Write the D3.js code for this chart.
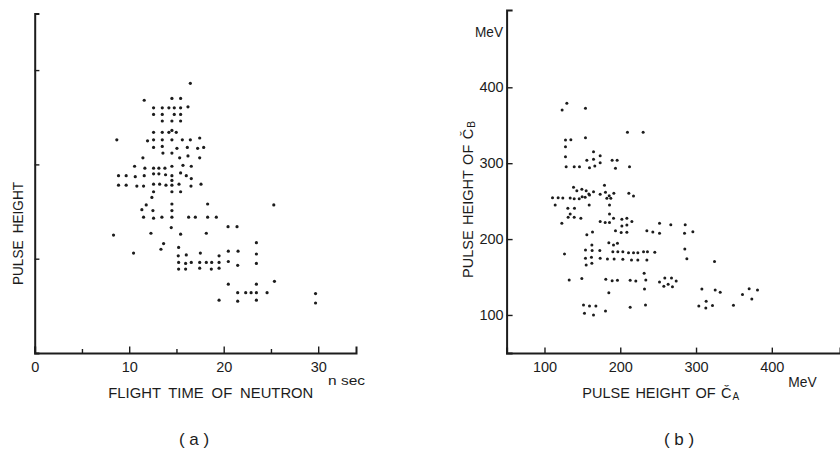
<!DOCTYPE html>
<html><head><meta charset="utf-8">
<script src="https://cdn.jsdelivr.net/npm/d3@7"></script>
<style>
body{margin:0;background:#fff}
text{font-family:"Liberation Sans",Arial,sans-serif;fill:#1c1c1c}
</style>
</head><body>
<svg id="c" width="840" height="449"></svg>
<script>
// Panel (a): flight time of neutron (ns) vs pulse height (arbitrary units, tick spacing = 1)
const flightTimeNs = [
 16.47,11.59,14.52,15.44,12.58,13.50,14.20,14.77,15.44,16.22,
 12.58,13.50,14.77,15.44,13.50,14.52,15.44,14.52,12.58,13.50,
 14.20,14.98,8.69,11.94,12.58,13.50,14.52,15.62,16.47,17.46,
 12.58,13.50,15.05,16.15,17.24,17.88,13.57,14.52,11.45,15.34,
 16.22,17.46,10.57,11.66,12.58,13.14,13.78,14.52,15.69,16.57,
 8.87,9.68,10.64,11.59,12.58,13.14,13.85,14.52,15.44,16.04,
 14.52,16.57,8.87,9.68,10.81,11.52,12.58,13.22,13.89,14.52,
 15.27,16.54,17.60,12.58,14.52,15.44,12.40,11.80,11.34,14.52,
 18.30,25.30,12.51,14.52,11.52,12.58,13.46,14.52,16.29,17.00,
 18.30,19.22,14.45,20.46,21.41,8.34,12.30,15.44,18.16,13.64,
 13.36,23.46,10.46,15.23,15.19,16.04,17.53,20.49,21.52,23.46,
 19.51,15.23,15.97,16.57,17.46,18.16,18.73,19.51,20.49,21.48,
 23.46,15.23,15.97,17.46,18.69,19.51,20.49,25.37,23.46,21.48,
 22.33,22.90,23.46,24.59,29.72,19.51,21.48,23.46,29.72
];
const pulseHeightA = [
 2.86,2.68,2.70,2.70,2.60,2.60,2.60,2.60,2.60,2.61,
 2.53,2.53,2.53,2.53,2.46,2.46,2.46,2.36,2.34,2.34,
 2.34,2.34,2.26,2.25,2.26,2.26,2.26,2.26,2.26,2.28,
 2.18,2.19,2.17,2.18,2.17,2.18,2.12,2.12,2.07,2.07,
 2.09,2.07,1.98,1.96,1.96,1.96,1.96,1.98,1.99,1.98,
 1.88,1.88,1.87,1.88,1.90,1.90,1.89,1.88,1.91,1.88,
 1.83,1.85,1.78,1.78,1.77,1.77,1.79,1.79,1.78,1.78,
 1.79,1.77,1.79,1.71,1.71,1.71,1.65,1.57,1.52,1.58,
 1.58,1.57,1.51,1.51,1.44,1.43,1.44,1.44,1.44,1.44,
 1.44,1.44,1.33,1.34,1.34,1.25,1.27,1.26,1.27,1.16,
 1.10,1.17,1.06,1.12,1.03,1.04,1.06,1.08,1.08,1.05,
 1.03,0.96,0.95,0.96,0.96,0.96,0.96,0.96,0.97,0.93,
 0.95,0.89,0.89,0.90,0.89,0.90,0.73,0.76,0.73,0.64,
 0.64,0.64,0.64,0.64,0.63,0.56,0.55,0.56,0.53
];
const flightTicks = [0,5,10,15,20,25,30];
const flightLabels = [0,10,20,30];
const pulseTicksA = [1,2,3];

// Panel (b): pulse height of C_A vs C_B (MeV)
const pulseCA = [
 129.5,123.3,154.1,209.5,230.2,127.7,134.8,154.1,127.7,127.7,
 164.7,173.5,155.9,164.7,173.5,189.3,195.9,128.6,139.2,146.2,
 159.4,166.4,193.7,212.2,138.3,142.7,149.3,155.0,158.5,164.7,
 179.2,173.5,180.5,185.4,191.5,182.3,187.5,211.3,217.5,110.6,
 118.0,124.2,133.9,139.2,145.8,149.7,153.7,159.4,114.1,159.0,
 185.8,122.9,130.8,139.6,133.9,131.2,139.2,148.0,185.8,191.1,
 173.5,180.1,185.8,202.1,208.7,215.3,202.1,208.7,193.7,201.2,
 208.7,155.9,163.4,235.1,243.0,251.8,266.7,285.7,251.8,284.8,
 295.8,184.9,191.1,196.3,162.5,154.1,162.9,173.0,190.2,196.8,
 203.4,210.9,217.5,223.2,230.7,235.9,126.4,154.1,162.0,173.5,
 183.1,191.9,203.4,214.8,223.2,235.1,155.0,162.5,231.5,132.6,
 149.3,180.9,189.3,196.3,213.1,220.5,233.7,184.9,232.0,151.5,
 159.4,167.8,152.8,164.7,180.5,213.1,233.3,251.8,258.8,267.6,
 273.8,257.5,263.2,268.9,245.6,285.2,287.9,324.4,307.7,325.3,
 331.9,313.4,303.7,312.9,321.7,349.4,361.3,370.1,381.1,373.6
];
const pulseCB = [
 378.9,370.1,372.3,340.7,340.7,330.6,331.0,333.6,321.8,308.6,
 315.2,309.9,303.8,305.1,300.7,303.8,303.8,295.4,295.4,295.4,
 294.1,296.3,293.2,295.4,268.2,263.8,265.6,263.8,259.4,262.5,
 270.8,259.0,261.6,257.2,260.3,253.7,253.7,260.3,256.8,254.6,
 254.6,254.1,254.1,253.3,253.3,255.9,255.0,258.1,244.9,244.9,
 244.9,220.8,240.5,240.5,233.1,228.7,228.7,227.4,233.1,227.4,
 223.0,221.7,221.7,226.0,227.4,223.0,217.3,218.6,211.1,208.5,
 208.9,205.8,209.4,211.1,209.4,220.8,219.0,219.0,207.6,207.6,
 209.8,195.3,192.2,194.4,192.2,185.6,184.8,184.8,183.4,183.4,
 183.4,182.1,182.1,182.1,183.4,183.4,180.4,174.7,176.0,174.7,
 173.8,173.8,173.3,172.5,172.5,172.5,165.9,168.1,154.9,146.1,
 147.9,147.0,145.2,145.7,145.7,144.8,146.1,129.4,134.3,113.2,
 111.9,111.9,102.2,100.0,105.3,110.1,113.2,143.5,148.7,148.7,
 144.8,137.8,140.4,137.3,182.6,187.0,174.2,170.3,134.3,132.9,
 129.9,118.0,111.9,109.2,112.3,112.7,126.8,134.7,132.9,121.1
];
const meVTicks = [100,200,300,400];

const svg = d3.select("#c");
const ink = "#1c1c1c";

// ---------- Panel (a) ----------
const xA = d3.scaleLinear().domain([0, 34]).range([34.7, 356]);
const yA = d3.scaleLinear().domain([0, 3.6]).range([353, 13.5]);

const gxA = svg.append("g").attr("transform", `translate(0,${yA(0)})`)
  .call(d3.axisBottom(xA).tickValues(flightTicks).tickSizeOuter(0).tickSize(-6.5).tickPadding(8.5)
    .tickFormat(d => flightLabels.includes(d) ? d : ""));
gxA.selectAll(".tick line").attr("y2", d => d % 10 === 0 ? -6.5 : -4);
svg.append("g").attr("transform", `translate(${xA(0)},0)`)
  .call(d3.axisLeft(yA).tickValues(pulseTicksA).tickSizeOuter(0).tickSize(-4.7).tickFormat(""));

svg.append("g").selectAll("circle").data(flightTimeNs).join("circle")
  .attr("cx", d => xA(d)).attr("cy", (d, i) => yA(pulseHeightA[i])).attr("r", 1.6).attr("fill", ink);

svg.append("text").attr("x", 108.3).attr("y", 398)
  .attr("font-size", 15.5).attr("textLength", 205).attr("lengthAdjust", "spacingAndGlyphs")
  .style("word-spacing", "4px").text("FLIGHT TIME OF NEUTRON");
svg.append("text").attr("x", 328).attr("y", 385).attr("font-size", 12.5)
  .attr("textLength", 37).attr("lengthAdjust", "spacingAndGlyphs").text("n sec");
svg.append("text").attr("transform", "translate(23.3,285) rotate(-90)")
  .attr("font-size", 15.5).attr("textLength", 103).attr("lengthAdjust", "spacingAndGlyphs")
  .style("word-spacing", "4px").text("PULSE HEIGHT");
svg.append("text").attr("x", 194).attr("y", 445).attr("text-anchor", "middle")
  .attr("font-size", 17).attr("xml:space", "preserve").style("white-space", "pre").text("( a )");

// ---------- Panel (b) ----------
const xB = d3.scaleLinear().domain([50, 490]).range([506.6, 840]);
const yB = d3.scaleLinear().domain([50, 502]).range([352.9, 9.9]);

svg.append("g").attr("transform", `translate(0,${yB(50)})`)
  .call(d3.axisBottom(xB).tickValues(meVTicks).tickSizeOuter(0).tickSize(-5.3).tickPadding(8.5));
svg.append("g").attr("transform", `translate(${xB(50)},0)`)
  .call(d3.axisLeft(yB).tickValues(meVTicks).tickSizeOuter(0).tickSize(-6).tickPadding(3));

svg.append("g").selectAll("circle").data(pulseCA).join("circle")
  .attr("cx", d => xB(d)).attr("cy", (d, i) => yB(pulseCB[i])).attr("r", 1.5).attr("fill", ink);

svg.append("text").attr("x", 475).attr("y", 36.7).attr("font-size", 14)
  .attr("textLength", 28).attr("lengthAdjust", "spacingAndGlyphs").text("MeV");
svg.append("text").attr("x", 788.3).attr("y", 387.3).attr("font-size", 14)
  .attr("textLength", 28.4).attr("lengthAdjust", "spacingAndGlyphs").text("MeV");

const tA = svg.append("text").attr("x", 582.3).attr("y", 398)
  .attr("font-size", 14.5).style("word-spacing", "1.5px");
tA.append("tspan").text("PULSE HEIGHT OF Č");
tA.append("tspan").attr("font-size", 10).attr("dx", 1).attr("dy", 2).text("A");

const tB = svg.append("text").attr("transform", "translate(473.3,278) rotate(-90)")
  .attr("font-size", 14.5).style("word-spacing", "1.5px");
tB.append("tspan").text("PULSE HEIGHT OF Č");
tB.append("tspan").attr("font-size", 10).attr("dx", 1).attr("dy", 2).text("B");

svg.append("text").attr("x", 679).attr("y", 445).attr("text-anchor", "middle")
  .attr("font-size", 17).attr("xml:space", "preserve").style("white-space", "pre").text("( b )");

// axis styling
svg.selectAll(".domain").attr("stroke", ink).attr("stroke-width", 2);
svg.selectAll(".tick line").attr("stroke", ink).attr("stroke-width", 1.4);
svg.selectAll(".tick text").attr("font-size", 14.5).attr("fill", ink)
  .attr("font-family", "Liberation Sans, Arial, sans-serif");
</script>
</body></html>
